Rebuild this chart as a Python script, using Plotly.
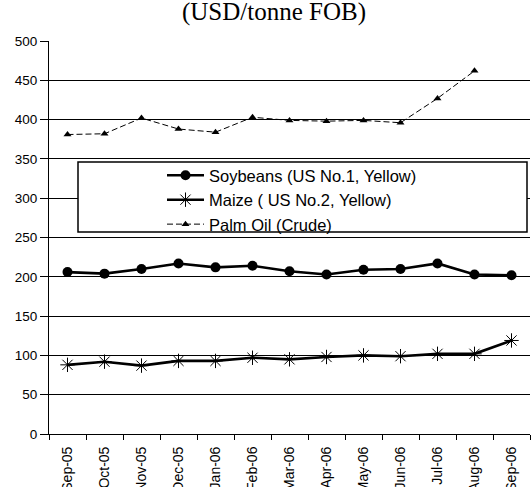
import plotly.graph_objects as go

months = ["Sep-05", "Oct-05", "Nov-05", "Dec-05", "Jan-06", "Feb-06", "Mar-06",
          "Apr-06", "May-06", "Jun-06", "Jul-06", "Aug-06", "Sep-06"]
soybeans = [206, 204, 210, 217, 212, 214, 207, 203, 209, 210, 217, 203, 202]
maize = [88, 92, 87, 93, 93, 97, 95, 98, 100, 99, 102, 102, 119]
palm_oil = [381, 382, 402, 388, 384, 403, 399, 398, 399, 396, 427, 462, None]

W, H = 531, 487
L, R, T, B = 49, 1, 41, 53

fig = go.Figure()
fig.add_trace(go.Scatter(
    x=months, y=soybeans, mode="lines+markers", name="Soybeans (US No.1, Yellow)",
    line=dict(color="black", width=2.6),
    marker=dict(symbol="circle", size=10, color="black"),
))
fig.add_trace(go.Scatter(
    x=months, y=maize, mode="lines+markers", name="Maize ( US No.2, Yellow)",
    line=dict(color="black", width=2.6),
    marker=dict(symbol="asterisk-open", size=12, color="black", line=dict(color="black", width=1)),
))
fig.add_trace(go.Scatter(
    x=months, y=palm_oil, mode="lines+markers", name="Palm Oil (Crude)",
    line=dict(color="black", width=1, dash="6px,3px"),
    marker=dict(symbol="triangle-up", size=7, color="black"),
))

pw, ph = W - L - R, H - T - B


def px_x(p):
    return (p - L) / pw


def px_y(p):
    return (H - B - p) / ph


# legend frame
fig.add_shape(type="rect", xref="paper", yref="paper",
              x0=px_x(78), x1=px_x(527), y0=px_y(232), y1=px_y(162),
              line=dict(color="black", width=1.5), fillcolor="white", layer="above")

fig.update_layout(
    width=W, height=H,
    margin=dict(l=L, r=R, t=T, b=B),
    paper_bgcolor="white", plot_bgcolor="white",
    font=dict(family="Arial, Liberation Sans", color="black"),
    title=dict(text="(USD/tonne FOB)", font=dict(family="Liberation Serif, Times New Roman", size=25),
               xref="container", x=274 / W, xanchor="center", yref="container", y=1.0, yanchor="top",
               pad=dict(t=2)),
    showlegend=True,
    legend=dict(x=px_x(162), y=px_y(158), xanchor="left", yanchor="top",
                bgcolor="rgba(0,0,0,0)", borderwidth=0, font=dict(size=16.5),
                itemwidth=37, tracegroupgap=0),
    xaxis=dict(
        type="category", range=[-0.5, 12.5], tickson="boundaries",
        ticks="outside", ticklen=5, tickcolor="black", tickangle=-90,
        tickfont=dict(size=14), ticklabelstandoff=6, showline=True, linecolor="black", linewidth=1,
        showgrid=False, automargin=False,
    ),
    yaxis=dict(
        range=[0, 500], dtick=50, ticks="outside", ticklen=8, tickcolor="black",
        tickfont=dict(size=13.5), showline=True, linecolor="black", linewidth=1,
        showgrid=True, gridcolor="black", gridwidth=1, zeroline=False, automargin=False,
    ),
)

fig.write_html("out.html", config={"displayModeBar": False},
               post_script="document.body.style.margin='0';document.body.style.overflow='hidden';")
